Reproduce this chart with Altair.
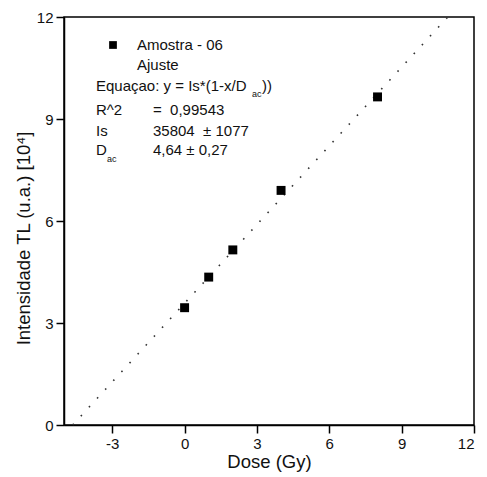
import altair as alt
import pandas as pd

# Measured data (Dose in Gy, TL intensity in 10^4 a.u.)
dose = [0, 1, 2, 4, 8]
intensity = [3.45, 4.35, 5.15, 6.9, 9.65]

# Fitted line endpoints
fit_dose = [-4.64, 10.91]
fit_intensity = [0, 12]

x_ticks = [-3, 0, 3, 6, 9, 12]
y_ticks = [0, 3, 6, 9, 12]

ann_text = ["Amostra - 06", "Ajuste", "Equaçao: y = Is*(1-x/D", "ac", "))",
            "R^2", "= \u00a00,99543", "Is", "35804 \u00a0± 1077", "D", "ac", "4,64 ± 0,27"]
ann_px = [73, 73, 32, 188, 198, 32, 89, 32, 89, 32, 43, 89]
ann_py = [28, 48, 69, 77, 69, 93, 93, 114, 114, 133, 142, 133]
ann_size = [15, 15, 15, 9, 15, 15, 15, 15, 15, 15, 9, 15]

FONT = "Liberation Sans"

pts = pd.DataFrame({"dose": dose, "val": intensity})
fit = pd.DataFrame({"dose": fit_dose, "val": fit_intensity})
ann = pd.DataFrame({"t": ann_text, "px": ann_px, "py": ann_py, "s": ann_size})

xs = alt.Scale(domain=[-5, 12], nice=False, zero=False)
ys = alt.Scale(domain=[0, 12], nice=False, zero=False)

common = dict(grid=False, tickSize=8, labelPadding=3, labelFontSize=15,
              titleFontWeight="normal", labelFont=FONT,
              titleFont=FONT, domainColor="black", tickColor="black",
              domainWidth=1.5, tickWidth=1.5, labelColor="#111", titleColor="#111",
              labelExpr="'' + datum.value")

xax = alt.Axis(values=x_ticks, title="Dose (Gy)", titleFontSize=18.5, titlePadding=1, **common)
yax = alt.Axis(values=y_ticks, title="Intensidade TL (u.a.) [10⁴]", titleFontSize=18.5,
               titlePadding=3, titleY=221, **common)

line = alt.Chart(fit).mark_line(color="#333", strokeWidth=1.6, strokeDash=[1.6, 10.4]).encode(
    x=alt.X("dose:Q", scale=xs, axis=xax),
    y=alt.Y("val:Q", scale=ys, axis=yax),
)

points = alt.Chart(pts).mark_point(shape="square", filled=True, color="black",
                                   size=80, opacity=1).encode(
    x=alt.X("dose:Q", scale=xs),
    y=alt.Y("val:Q", scale=ys),
)

legend_sq = alt.Chart(pd.DataFrame({"a": [0]})).mark_point(
    shape="square", filled=True, color="black", size=60, opacity=1).encode(
    x=alt.value(49), y=alt.value(28))

texts = alt.Chart(ann).mark_text(align="left", baseline="middle", font=FONT,
                                 color="#111").encode(
    x=alt.X("px:Q", scale=None),
    y=alt.Y("py:Q", scale=None),
    text="t:N",
    size=alt.Size("s:Q", scale=None, legend=None),
)

chart = alt.layer(line, points, legend_sq, texts).properties(
    width=410, height=408, autosize="none",
    padding={"left": 56, "top": 9, "right": 5, "bottom": 52},
    background="white",
).configure_view(stroke="black", strokeWidth=1.5)

chart.save("out.html", embed_options={"renderer": "svg", "actions": False})
